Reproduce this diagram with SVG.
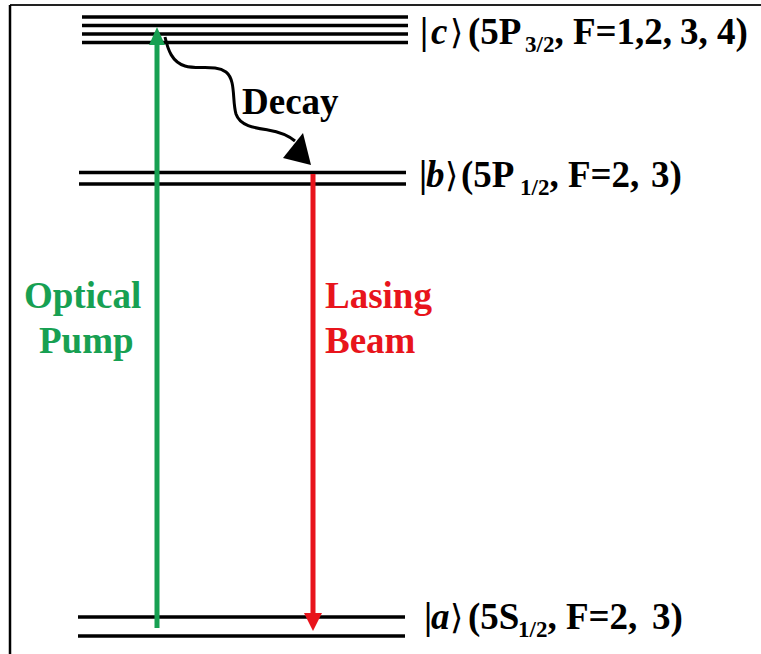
<svg xmlns="http://www.w3.org/2000/svg" width="761" height="654" viewBox="0 0 761 654">
<style>
.lvl{stroke:#000;stroke-width:3.5;fill:none}
.lbl{font-family:"Liberation Serif","DejaVu Serif",serif;font-weight:bold;font-size:37px;fill:#000}
.sub{font-size:23px}
.it{font-style:italic}
.br{font-family:"DejaVu Serif",serif;font-weight:normal;font-size:34px}
.grn{fill:#17a052}
.red{fill:#e8141c}
</style>
<rect width="761" height="654" fill="#fff"/>
<g id="frame">
<line x1="10" y1="5" x2="761" y2="5" stroke="#222" stroke-width="2"/>
<line x1="10" y1="5" x2="10" y2="654" stroke="#000" stroke-width="2.5"/>
</g>
<g id="level-c">
<line class="lvl" x1="82" y1="17" x2="408" y2="17"/>
<line class="lvl" x1="82" y1="25.5" x2="408" y2="25.5"/>
<line class="lvl" x1="82" y1="34" x2="408" y2="34"/>
<line class="lvl" x1="82" y1="42.5" x2="408" y2="42.5"/>
<text class="lbl" y="44"><tspan x="420">|</tspan><tspan x="431" class="it">c</tspan><tspan x="450" class="br">⟩</tspan><tspan x="468">(5P</tspan><tspan x="525" dy="8" class="sub">3/2</tspan><tspan dy="-8">, F=1,2,</tspan><tspan x="680">3,</tspan><tspan x="717">4)</tspan></text>
</g>
<g id="level-b">
<line class="lvl" x1="79" y1="172.5" x2="406" y2="172.5"/>
<line class="lvl" x1="79" y1="184" x2="406" y2="184"/>
<text class="lbl" y="187"><tspan x="419">|</tspan><tspan x="426" class="it">b</tspan><tspan x="445" class="br">⟩</tspan><tspan x="461">(5P</tspan><tspan x="520" dy="8" class="sub">1/2</tspan><tspan dy="-8">, F=2,</tspan><tspan x="651">3)</tspan></text>
</g>
<g id="level-a">
<line class="lvl" x1="78" y1="617" x2="405" y2="617"/>
<line class="lvl" x1="78" y1="636" x2="405" y2="636"/>
<text class="lbl" y="629"><tspan x="424">|</tspan><tspan x="431" class="it">a</tspan><tspan x="450" class="br">⟩</tspan><tspan x="468">(5S</tspan><tspan x="518" dy="8" class="sub">1/2</tspan><tspan dy="-8">, F=2,</tspan><tspan x="652">3)</tspan></text>
</g>
<g id="connectors">
<line id="pump" x1="157" y1="628" x2="157" y2="40" stroke="#17a052" stroke-width="5"/>
<path d="M149,45 L157,27 L165,45 Z" fill="#17a052"/>
<line id="lasing" x1="313" y1="174" x2="313" y2="615" stroke="#e8141c" stroke-width="5"/>
<path d="M304,613 L322,613 L313,631 Z" fill="#e8141c"/>
<path id="decay" d="M165,37 C168,50 172,62 185,66 C198,70 215,64 226,72 C236,80 232,100 236,114 C240,126 255,128 268,130 C280,132 289,136 295,141" fill="none" stroke="#000" stroke-width="3"/>
<path d="M283,158 L303,133 L311,165 Z" fill="#000"/>
</g>
<g id="labels">
<text class="lbl" x="242" y="114">Decay</text>
<text class="lbl grn" x="24" y="308">Optical</text>
<text class="lbl grn" x="39" y="353">Pump</text>
<text class="lbl red" x="325" y="308">Lasing</text>
<text class="lbl red" x="325" y="353">Beam</text>
</g>
</svg>
